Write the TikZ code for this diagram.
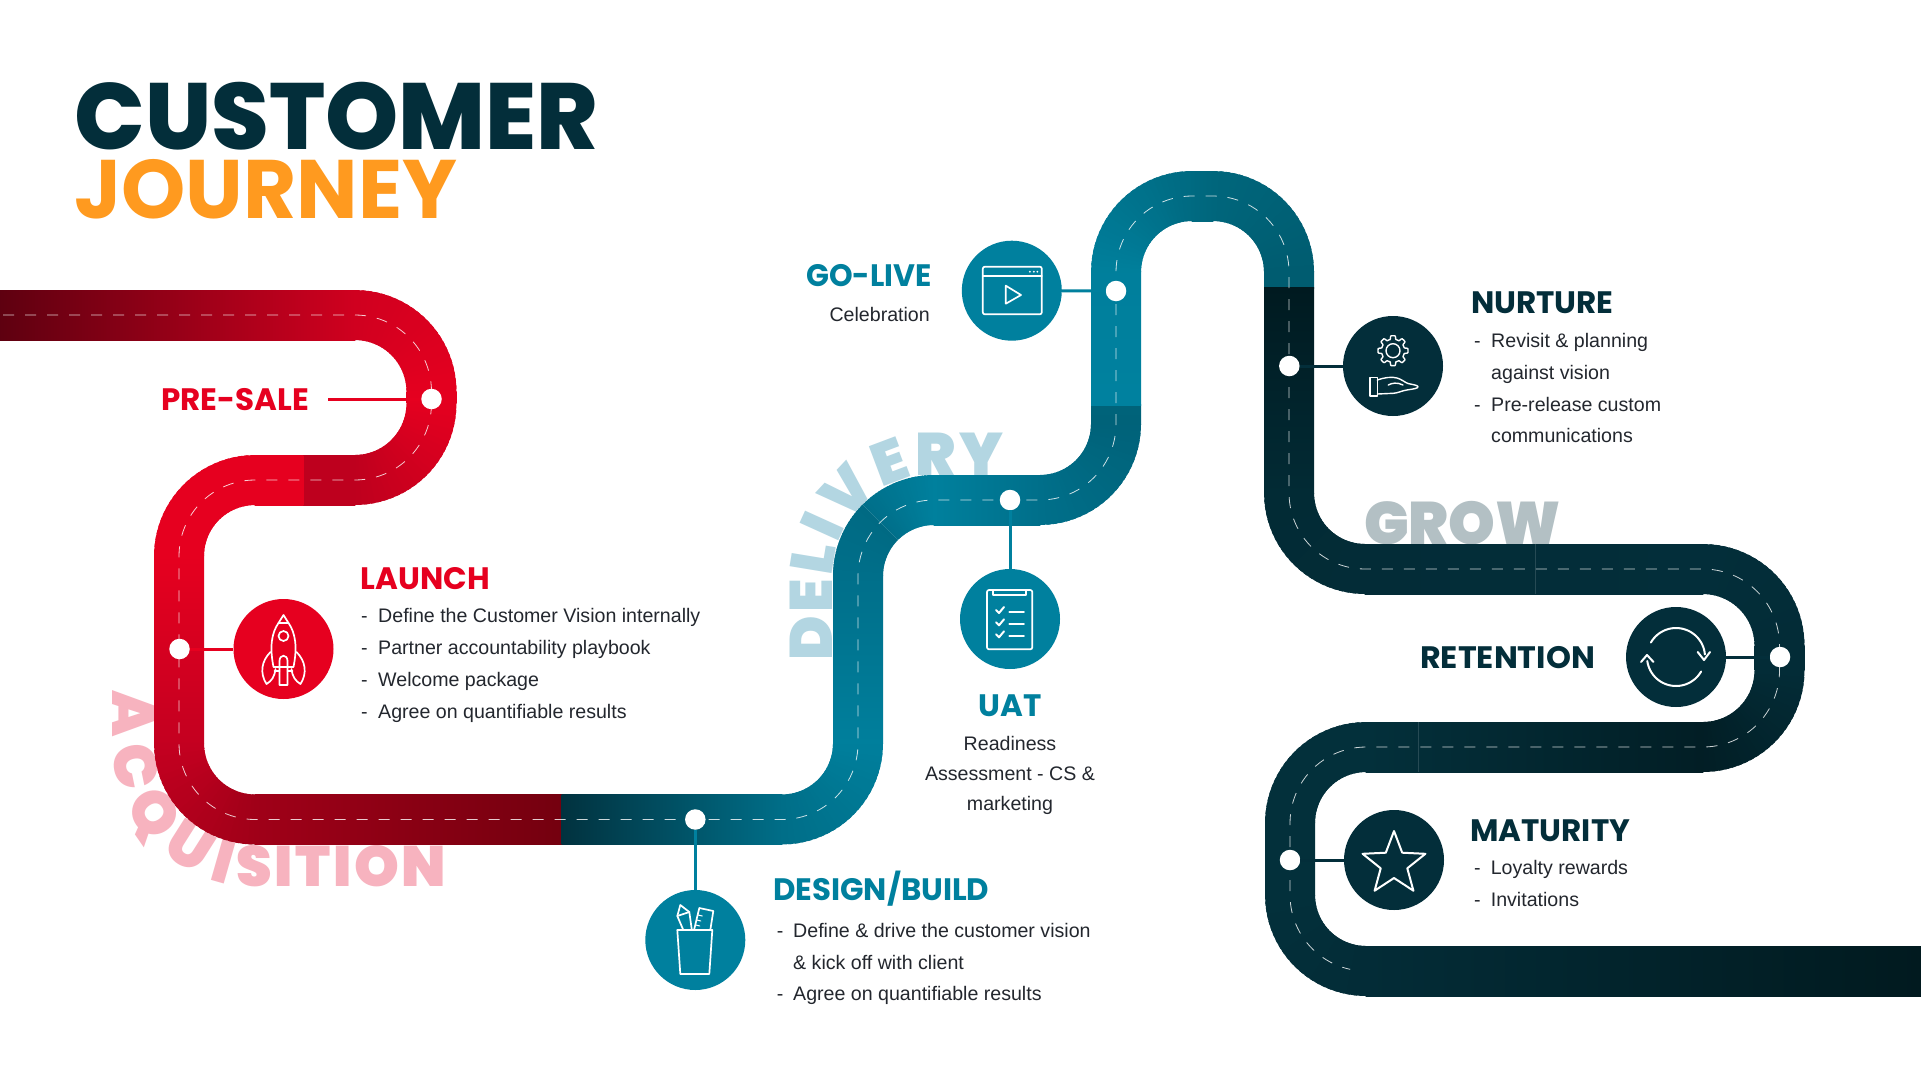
\documentclass[tikz,border=0pt]{standalone}
\usepackage{fontspec}
\usetikzlibrary{decorations.text}
\setmainfont{Liberation Sans}
\newfontfamily\bodyf{Liberation Sans}
\newfontfamily\headf{Poppins}[UprightFont=*-Bold]
\newfontfamily\blackf{Poppins ExtraBold}
\newfontfamily\heavyf{Poppins Black}
\definecolor{rbright}{HTML}{E6001F}
\definecolor{tealc}{HTML}{00809E}
\definecolor{darkc}{HTML}{032E3A}
\definecolor{orangec}{HTML}{FF9A1F}
\definecolor{bodytxt}{HTML}{23272E}
\definecolor{wmpink}{HTML}{F7B3BF}
\definecolor{wmblue}{HTML}{B3D6E2}
\definecolor{wmgrey}{HTML}{B3C0C4}
\definecolor{ra}{HTML}{5E0010}
\definecolor{rb}{HTML}{D0001F}
\definecolor{rc}{HTML}{E4001F}
\definecolor{rd}{HTML}{BE001E}
\definecolor{re}{HTML}{C40020}
\definecolor{rf}{HTML}{A00018}
\definecolor{rg}{HTML}{74000F}
\definecolor{ta}{HTML}{01323F}
\definecolor{tb}{HTML}{006E88}
\definecolor{tc}{HTML}{007F9C}
\definecolor{td}{HTML}{006F8A}
\definecolor{te}{HTML}{006A83}
\definecolor{tf}{HTML}{00809D}
\definecolor{tg}{HTML}{006279}
\definecolor{th}{HTML}{00637A}
\definecolor{ti}{HTML}{00819F}
\definecolor{tj}{HTML}{006A81}
\definecolor{tk}{HTML}{00667C}
\definecolor{tl}{HTML}{005C70}
\definecolor{da}{HTML}{001A20}
\definecolor{db}{HTML}{022B35}
\definecolor{dc}{HTML}{032C37}
\definecolor{dd}{HTML}{032E3A}
\definecolor{de}{HTML}{021E25}
\definecolor{df}{HTML}{03303B}
\definecolor{dg}{HTML}{011A1F}
\newcommand{\hroad}[5]{\shade[left color=#4,right color=#5] (#1-.3,#3-25) rectangle (#2+.3,#3+25);}
\newcommand{\vroad}[5]{\shade[top color=#4,bottom color=#5] (#1-25,#2-.3) rectangle (#1+25,#3+.3);}
\newcommand{\aroad}[7]{%
 \pgfmathsetmacro{\dA}{(#5-#4)/24}
 \foreach \k in {0,...,23}{
  \pgfmathsetmacro{\aA}{#4+\k*\dA}
  \pgfmathsetmacro{\aB}{#4+min(\k+1.6,24)*\dA}
  \pgfmathtruncatemacro{\pp}{(\k+.5)/24*100}
  \fill[fill=#7!\pp!#6] ({#1+(#3-25)*cos(\aA)},{#2+(#3-25)*sin(\aA)}) -- ({#1+(#3+25)*cos(\aA)},{#2+(#3+25)*sin(\aA)}) -- ({#1+(#3+25)*cos(\aB)},{#2+(#3+25)*sin(\aB)}) -- ({#1+(#3-25)*cos(\aB)},{#2+(#3-25)*sin(\aB)}) -- cycle;
 }}
\newcommand{\arcp}[5]{-- plot[domain=#4:#5,samples=25] ({#1+#3*cos(\x)},{#2+#3*sin(\x)})}
\tikzset{
 stopc/.style={circle,fill=#1,minimum size=100pt,inner sep=0pt},
 dotn/.style={circle,fill=white,minimum size=20.5pt,inner sep=0pt},
 conn/.style={draw=#1,line width=3pt},
 head/.style={inner sep=0pt,anchor=base west,font=\headf\fontsize{31}{36}\selectfont},
 body/.style={inner sep=0pt,anchor=base west,text=bodytxt,font=\bodyf\fontsize{19.6}{24}\selectfont},
 ico/.style={draw=white,line width=1.7pt,line join=round,line cap=round},
 centerdash/.style={draw=white,line width=.8pt,opacity=.8,dash pattern=on 11pt off 11pt},
}
\begin{document}
\begin{tikzpicture}[x=1pt,y=-1pt]
\useasboundingbox (0,0) rectangle (1921,1081);
\fill[white] (0,0) rectangle (1921,1081);
% watermarks
\path[decorate,decoration={text along path,text align={fit to path},text={|\heavyf\fontsize{60}{60}\selectfont\color{wmpink}|ACQUI}}]
  (112,690) -- (112,743.5) \arcp{255}{743.5}{143}{180}{101};
\path[decorate,decoration={text along path,text align={fit to path},text={|\heavyf\fontsize{57}{60}\selectfont\color{wmpink}|SITION}}]
  (236,886) -- (446,886);
\path[decorate,decoration={text along path,text align={fit to path},text={|\heavyf\fontsize{60}{60}\selectfont\color{wmblue}|DELIVERY}}]
  (832.7,660) -- (832.7,576) \arcp{934}{576}{101}{180}{270} -- (1003,475);
\node[inner sep=0pt,anchor=base west,text=wmgrey,font=\heavyf\fontsize{60}{60}\selectfont] (grow) at (1364,544) {\scalebox{.99}[1]{GROW}};
% road: red
\hroad{-1}{355}{315}{ra}{rb}
\aroad{355}{391.5}{76.5}{270}{360}{rb}{rc}
\vroad{431.5}{391.5}{403.5}{rc}{rc}
\aroad{355}{403.5}{76.5}{0}{90}{rc}{rd}
\hroad{303}{355}{480}{rd}{rd}
\hroad{255}{303}{480}{rbright}{rbright}
\aroad{255}{556}{76}{270}{180}{rbright}{rbright}
\vroad{179}{556}{743.5}{rbright}{re}
\aroad{255}{743.5}{76}{180}{90}{re}{rf}
\hroad{255}{562}{819.5}{rf}{rg}
% road: teal
\hroad{562}{782}{819.5}{ta}{tb}
\aroad{782}{743.5}{76}{90}{0}{tb}{tc}
\vroad{858}{576}{743.5}{td}{tc}
\aroad{934}{576}{76}{180}{225}{td}{te}
\aroad{934}{576}{76}{225}{270}{td}{tf}
\hroad{934}{1040}{500}{tf}{td}
\aroad{1040}{424}{76}{90}{0}{td}{tg}
\vroad{1116}{405}{424}{th}{tg}
\vroad{1116}{272}{405}{tc}{ti}
\aroad{1192}{272}{76}{180}{270}{tc}{tj}
\hroad{1192}{1213}{196}{tj}{tk}
\aroad{1213}{272}{76}{270}{360}{tk}{tl}
\vroad{1289}{272}{288}{tl}{tl}
% road: dark
\vroad{1289}{288}{493}{da}{db}
\aroad{1365}{493}{76}{180}{90}{db}{dc}
\hroad{1365}{1703}{569}{dc}{dd}
\aroad{1703}{645.5}{76.5}{270}{360}{dd}{dc}
\vroad{1779.5}{645.5}{670.5}{dc}{dc}
\aroad{1703}{670.5}{76.5}{0}{90}{dc}{de}
\hroad{1366}{1703}{747}{df}{de}
\aroad{1366}{823}{76}{270}{180}{df}{df}
\vroad{1290}{823}{895}{df}{df}
\aroad{1366}{895}{76}{180}{90}{df}{dc}
\hroad{1366}{1922}{971}{dc}{dg}
\draw[white,opacity=.14,line width=.6pt] (1535,544) -- (1535,594);
\draw[white,opacity=.14,line width=.6pt] (1418,722) -- (1418,772);
% centre line
\path[centerdash] (3,315) -- (355,315) \arcp{355}{391.5}{76.5}{270}{360} \arcp{355}{403.5}{76.5}{0}{90} -- (255,480) \arcp{255}{556}{76}{270}{180} \arcp{255}{743.5}{76}{180}{90} -- (782,819.5) \arcp{782}{743.5}{76}{90}{0} \arcp{934}{576}{76}{180}{270} -- (1040,500) \arcp{1040}{424}{76}{90}{0} \arcp{1192}{272}{76}{180}{270} -- (1213,196) \arcp{1213}{272}{76}{270}{360} \arcp{1365}{493}{76}{180}{90} -- (1703,569) \arcp{1703}{645.5}{76.5}{270}{360} \arcp{1703}{670.5}{76.5}{0}{90} -- (1366,747) \arcp{1366}{823}{76}{270}{180} \arcp{1366}{895}{76}{180}{102};
% stops
\node[stopc=rbright] (cLaunch) at (283.5,649) {};
\node[stopc=tealc] (cDesign) at (695.3,940) {};
\node[stopc=tealc] (cUat) at (1010,619) {};
\node[stopc=tealc] (cLive) at (1011.8,290.7) {};
\node[stopc=darkc] (cNurture) at (1393,366) {};
\node[stopc=darkc] (cRet) at (1676,657) {};
\node[stopc=darkc] (cMat) at (1394,860) {};
\node[dotn] (dPre) at (431.5,399) {};
\node[dotn] (dLaunch) at (179.5,649) {};
\node[dotn] (dDesign) at (695.3,819.5) {};
\node[dotn] (dUat) at (1010,500) {};
\node[dotn] (dLive) at (1116,291) {};
\node[dotn] (dNurture) at (1289.3,366) {};
\node[dotn] (dRet) at (1780,657) {};
\node[dotn] (dMat) at (1290,860) {};
\coordinate (preEnd) at (328,399);
\draw[conn=rbright] (preEnd) -- (dPre);
\draw[conn=rbright] (dLaunch) -- (cLaunch);
\draw[conn=tealc] (dDesign) -- (cDesign);
\draw[conn=tealc] (dUat) -- (cUat);
\draw[conn=tealc] (dLive) -- (cLive);
\draw[conn=darkc] (dNurture) -- (cNurture);
\draw[conn=darkc] (dRet) -- (cRet);
\draw[conn=darkc] (dMat) -- (cMat);
% title
\node[inner sep=0pt,anchor=base west,text=darkc,font=\blackf\fontsize{94}{100}\selectfont] (t1) at (74.5,149) {\scalebox{.99}[1]{CUSTOMER}};
\node[inner sep=0pt,anchor=base west,text=orangec,font=\headf\fontsize{83}{90}\selectfont] (t2) at (74,218.5) {\scalebox{.985}[1]{JOURNEY}};
% headings
\node[head,text=rbright,anchor=base east] (hPre) at (309,410) {PRE-SALE};
\node[head,text=rbright] (hLaunch) at (360.5,589) {LAUNCH};
\node[head,text=tealc,anchor=base east] (hLive) at (932,286) {\scalebox{.97}[1]{GO-LIVE}};
\node[head,text=tealc] (hDesign) at (773,900) {\scalebox{.995}[1]{DESIGN/BUILD}};
\node[head,text=tealc,anchor=base] (hUat) at (1010,716) {UAT};
\node[head,text=darkc] (hNurture) at (1471,313) {NURTURE};
\node[head,text=darkc] (hRet) at (1420,668) {\scalebox{1.025}[1]{RETENTION}};
\node[head,text=darkc] (hMat) at (1470,841) {MATURITY};
% body text
\node[body,anchor=base east] (bLive) at (930,321.7) {Celebration};
\node[body] (l1a) at (361,622) {-};\node[body] (l1) at (378,622) {Define the Customer Vision internally};
\node[body] (l2a) at (361,654) {-};\node[body] (l2) at (378,654) {Partner accountability playbook};
\node[body] (l3a) at (361,686) {-};\node[body] (l3) at (378,686) {Welcome package};
\node[body] (l4a) at (361,718) {-};\node[body] (l4) at (378,718) {Agree on quantifiable results};
\node[body] (d1a) at (776.7,937.3) {-};\node[body] (d1) at (793,937.3) {Define \& drive the customer vision};
\node[body] (d2) at (793,969) {\& kick off with client};
\node[body] (d3a) at (776.7,1000.7) {-};\node[body] (d3) at (793,1000.7) {Agree on quantifiable results};
\node[body,anchor=base] (u1) at (1010,750) {Readiness};
\node[body,anchor=base] (u2) at (1010,780) {Assessment - CS \&};
\node[body,anchor=base] (u3) at (1010,810) {marketing};
\node[body] (n1a) at (1474,347.7) {-};\node[body] (n1) at (1491,347.7) {Revisit \& planning};
\node[body] (n2) at (1491,379.3) {against vision};
\node[body] (n3a) at (1474,411) {-};\node[body] (n3) at (1491,411) {Pre-release custom};
\node[body] (n4) at (1491,442.7) {communications};
\node[body] (m1a) at (1474,874.3) {-};\node[body] (m1) at (1490.6,874.3) {Loyalty rewards};
\node[body] (m2a) at (1474,906) {-};\node[body] (m2) at (1490.6,906) {Invitations};
% icon: rocket
\begin{scope}[shift={(283.5,649)}]
 \draw[ico] (0,-34) -- (-5,-26) .. controls (-12,-16) and (-14,-2) .. (-10,18) -- (10,18) .. controls (14,-2) and (12,-16) .. (5,-26) -- cycle;
 \draw[ico] (-5,-26) -- (5,-26);
 \draw[ico] (0,-13) circle[radius=5pt];
 \draw[ico] (-13,3) .. controls (-22,12) and (-24,24) .. (-17,35) .. controls (-12,32) and (-9,28) .. (-8,20);
 \draw[ico] (13,3) .. controls (22,12) and (24,24) .. (17,35) .. controls (12,32) and (9,28) .. (8,20);
 \draw[ico] (-4,36) -- (-4,12) .. controls (-4,5) and (4,5) .. (4,12) -- (4,36) -- cycle;
 \draw[ico] (-9,22) -- (-4,22) (4,22) -- (9,22);
\end{scope}
% icon: cup
\begin{scope}[shift={(695.3,940)}]
 \draw[ico] (-18,-10) -- (17,-10) -- (14,34) -- (-15,34) -- cycle;
 \draw[ico] (-12,-10) -- (-18,-24) -- (-15,-35) -- (-6,-28) -- (-3.6,-11);
 \draw[ico] (-18,-24) -- (-6,-28);
 \draw[ico] (-1,-11) -- (4,-32) -- (18,-29) -- (15,-10);
 \draw[ico,line width=1pt] (3,-25) -- (7,-24) (1.5,-20) -- (5.5,-19) (.5,-15) -- (4.5,-14);
\end{scope}
% icon: browser
\begin{scope}[shift={(1011.8,290.7)}]
 \draw[ico,rounded corners=2pt] (-29,-24) rectangle (30,23.6);
 \draw[ico] (-29,-15) -- (30,-15);
 \fill[white] (18,-19) circle[radius=1pt] (22,-19) circle[radius=1pt] (25.6,-19) circle[radius=1pt];
 \draw[ico] (-6,-5) -- (-6,13) -- (9.2,4.3) -- cycle;
\end{scope}
% icon: clipboard
\begin{scope}[shift={(1010,619)}]
 \draw[ico,rounded corners=2pt] (-23,-29) rectangle (22.3,30.3);
 \draw[ico] (-17,-29) -- (-17,-24) -- (16,-24) -- (16,-29);
 \foreach \yy in {-9,3.3,15.3}{
  \draw[ico,line width=2pt] (-14,\yy) -- (-11,\yy+3) -- (-6,\yy-3);
  \draw[ico] (-.7,\yy+1.7) -- (14,\yy+1.7);
 }
\end{scope}
% icon: gear and hand
\begin{scope}[shift={(1393,366)}]
 \draw[ico,line width=1.4pt] (0,-15.3) circle[radius=7pt];
 \draw[ico,line width=1.4pt] plot[domain=0:360,samples=145] ({(11.5+3.5*max(0,min(1,1.5*cos(8*\x)+.5)))*cos(\x)},{-15.3+(11.5+3.5*max(0,min(1,1.5*cos(8*\x)+.5)))*sin(\x)});
 \draw[ico,line width=1.4pt] (-23,11.7) rectangle (-15.7,30);
 \draw[ico,line width=1.4pt] (-15.7,14) .. controls (-9,11.5) and (-1,10.5) .. (4,12) .. controls (9,13.5) and (12,16.5) .. (15,17.5) .. controls (19,18.5) and (24,19) .. (25,20.5) .. controls (25.5,22.5) and (20,23) .. (13.7,24) .. controls (8,25) and (5,27) .. (.3,27.3) -- (-15.7,28);
 \draw[ico,line width=1.4pt] (-4.7,19) .. controls (-1,17) and (4,16) .. (10,19);
\end{scope}
% icon: cycle arrows
\begin{scope}[shift={(1676,657)}]
 \draw[ico,line width=2pt] plot[domain=-150:-5,samples=30] ({29*cos(\x)},{29*sin(\x)});
 \draw[ico,line width=2pt] plot[domain=30:172,samples=30] ({29*cos(\x)},{29*sin(\x)});
 \draw[ico,line width=2pt] (21.7,-5) -- (28,3) -- (34,-5);
 \draw[ico,line width=2pt] (-35,5) -- (-29,-2) -- (-22.5,5);
\end{scope}
% icon: star
\begin{scope}[shift={(1394,860)}]
 \draw[ico,line width=2pt] (0,-29) -- (8.2,-7.3) -- (31.4,-6.2) -- (13.3,8.3) -- (19.4,30.7) -- (0,18) -- (-19.4,30.7) -- (-13.3,8.3) -- (-31.4,-6.2) -- (-8.2,-7.3) -- cycle;
\end{scope}
\end{tikzpicture}
\end{document}
